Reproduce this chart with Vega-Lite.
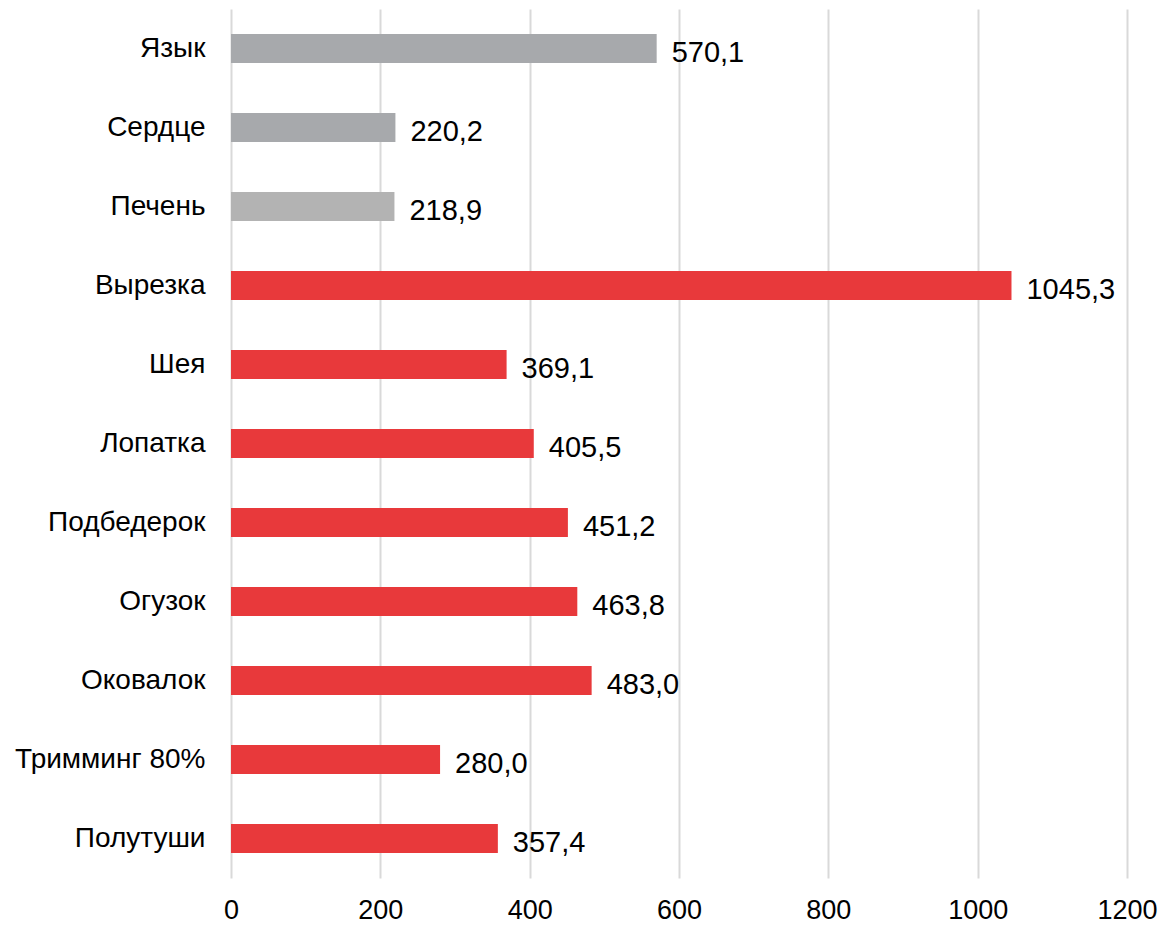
{
  "$schema": "https://vega.github.io/schema/vega-lite/v6.json",
  "width": 896,
  "height": 869,
  "autosize": {"type": "none"},
  "padding": {"left": 231, "top": 9, "right": 35, "bottom": 47},
  "background": "white",
  "config": {
    "view": {"stroke": null},
    "locale": {"number": {"decimal": ",", "thousands": "", "grouping": [3], "currency": ["", ""]}}
  },
  "data": {
    "values": [
      {"part": "Язык", "value": 570.1},
      {"part": "Сердце", "value": 220.2},
      {"part": "Печень", "value": 218.9},
      {"part": "Вырезка", "value": 1045.3},
      {"part": "Шея", "value": 369.1},
      {"part": "Лопатка", "value": 405.5},
      {"part": "Подбедерок ", "value": 451.2},
      {"part": "Огузок", "value": 463.8},
      {"part": "Оковалок", "value": 483.0},
      {"part": "Тримминг 80%", "value": 280.0},
      {"part": "Полутуши", "value": 357.4}
    ]
  },
  "encoding": {
    "y": {
      "field": "part", "type": "nominal", "sort": null, "title": null,
      "scale": {"paddingInner": 0.63, "paddingOuter": 0.315},
      "axis": {"domain": false, "ticks": false, "grid": false, "labelFont": "Liberation Sans", "labelFontSize": 28, "labelColor": "#000000", "labelPadding": 26, "labelLimit": 300}
    },
    "x": {
      "field": "value", "type": "quantitative", "title": null,
      "scale": {"domain": [0, 1200], "nice": false},
      "axis": {"values": [0, 200, 400, 600, 800, 1000, 1200], "domain": false, "ticks": false, "grid": true, "gridColor": "#d9d9d9", "gridWidth": 2, "labelFont": "Liberation Sans", "labelFontSize": 27, "labelColor": "#000000", "labelPadding": 19, "labelFlush": false, "labelOverlap": false, "format": "d"}
    }
  },
  "layer": [
    {
      "mark": {"type": "bar"},
      "encoding": {
        "color": {
          "field": "part", "type": "nominal", "legend": null,
          "scale": {
            "domain": ["Язык", "Сердце", "Печень", "Вырезка", "Шея", "Лопатка", "Подбедерок ", "Огузок", "Оковалок", "Тримминг 80%", "Полутуши"],
            "range": ["#A7A9AC", "#A7A9AC", "#B3B3B3", "#E8393B", "#E8393B", "#E8393B", "#E8393B", "#E8393B", "#E8393B", "#E8393B", "#E8393B"]
          }
        }
      }
    },
    {
      "mark": {"type": "text", "align": "left", "baseline": "middle", "dx": 15, "dy": 4, "font": "Liberation Sans", "fontSize": 29, "color": "#000000"},
      "encoding": {
        "text": {"field": "value", "type": "quantitative", "format": ".1f"}
      }
    }
  ]
}
